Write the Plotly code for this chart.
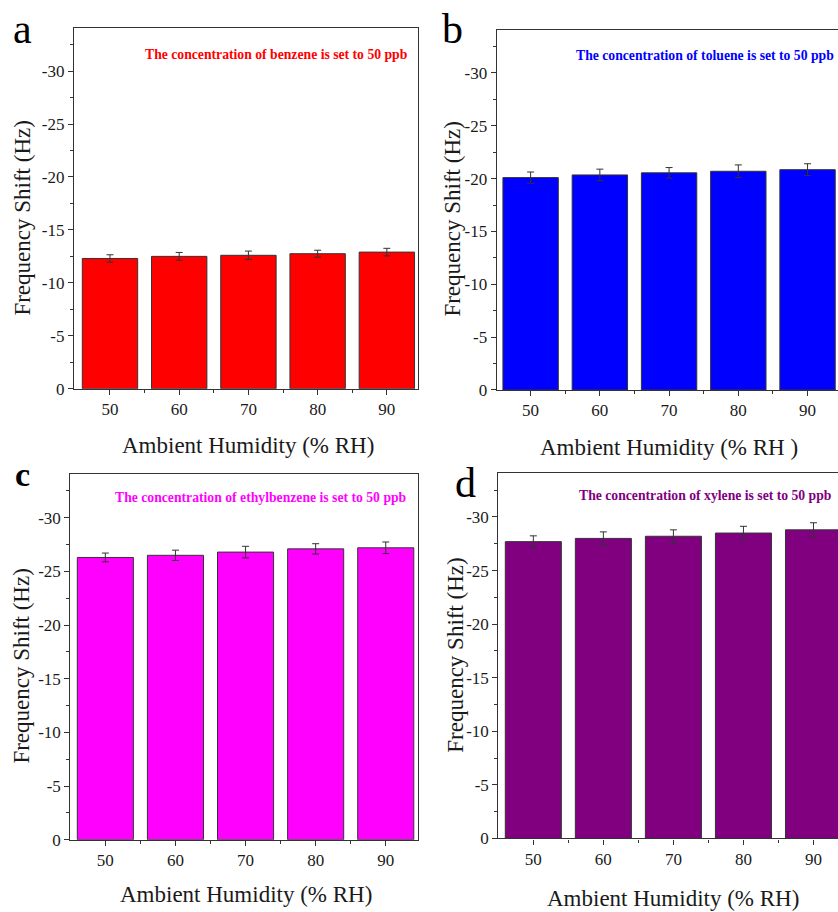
import plotly.graph_objects as go

W, H = 838, 912

humidity = [50, 60, 70, 80, 90]
tick_labels_x = ["50", "60", "70", "80", "90"]

benzene = [-12.3, -12.5, -12.6, -12.75, -12.9]
benzene_err = [0.35, 0.37, 0.40, 0.33, 0.36]
toluene = [-20.1, -20.35, -20.55, -20.7, -20.85]
toluene_err = [0.53, 0.55, 0.50, 0.60, 0.56]
ethylbenzene = [-26.3, -26.5, -26.8, -27.1, -27.2]
ethylbenzene_err = [0.41, 0.48, 0.54, 0.48, 0.54]
xylene = [-27.7, -28.0, -28.2, -28.5, -28.8]
xylene_err = [0.54, 0.61, 0.60, 0.63, 0.66]

y_ticks = [0, -5, -10, -15, -20, -25, -30]
y_ticklabels = ["0", "-5", "-10", "-15", "-20", "-25", "-30"]
y_minor = [-2.5, -7.5, -12.5, -17.5, -22.5, -27.5, -32.5]
x_minor = [55, 65, 75, 85]

FONT = "Liberation Serif, Times New Roman, serif"
AX = "#333333"

def px(x):
    return x / W

def py(y):
    return 1 - y / H

panels = [
    dict(v=benzene, e=benzene_err, c="#FF0000",
         sub="The concentration of benzene is set to 50 ppb",
         xdom=[px(74), px(418)], ydom=[py(393), py(28)], xr=[44.8, 94.5],
         letter="a", lpos=(22, 43), lbold=False, lsize=42,
         subpos=(143, 55), xt="Ambient Humidity (% RH)", xtpos=(248, 450),
         ytpos=(23, 221), mirror_y=True),
    dict(v=toluene, e=toluene_err, c="#0000FF",
         sub="The concentration of toluene is set to 50 ppb",
         xdom=[px(496.7), 1.0], ydom=[py(394.3), py(30)], xr=[45.1, 94.4],
         letter="b", lpos=(453, 43), lbold=False, lsize=42,
         subpos=(574, 56), xt="Ambient Humidity (% RH )", xtpos=(669, 452),
         ytpos=(453, 221), mirror_y=False),
    dict(v=ethylbenzene, e=ethylbenzene_err, c="#FF00FF",
         sub="The concentration of ethylbenzene is set to 50 ppb",
         xdom=[px(70.3), px(418)], ydom=[py(849), py(479)], xr=[45.0, 94.6],
         letter="c", lpos=(22, 489), lbold=True, lsize=34,
         subpos=(113, 503), xt="Ambient Humidity (% RH)", xtpos=(246, 904),
         ytpos=(22, 674), mirror_y=True),
    dict(v=xylene, e=xylene_err, c="#800080",
         sub="The concentration of xylene is set to 50 ppb",
         xdom=[px(498.3), 1.0], ydom=[py(847.7), py(478.3)], xr=[45.0, 93.5],
         letter="d", lpos=(465, 503), lbold=False, lsize=42,
         subpos=(577, 501), xt="Ambient Humidity (% RH)", xtpos=(673, 908),
         ytpos=(456, 663), mirror_y=False),
]

fig = go.Figure()
annotations = []
for i, p in enumerate(panels, start=1):
    sx = "" if i == 1 else str(i)
    fig.add_trace(go.Bar(
        x=humidity, y=p["v"], width=8,
        marker=dict(color=p["c"], line=dict(color=AX, width=1)),
        error_y=dict(type="data", array=p["e"], color=AX, thickness=1, width=3.5),
        xaxis="x" + sx, yaxis="y" + sx, showlegend=False,
    ))
    fig.update_layout(**{
        "xaxis" + sx: dict(
            domain=p["xdom"], range=p["xr"], anchor="y" + sx,
            tickmode="array", tickvals=humidity, ticktext=tick_labels_x,
            ticks="outside", ticklen=5, tickwidth=1, tickcolor=AX,
            minor=dict(tickmode="array", tickvals=x_minor, ticks="outside",
                       ticklen=3, tickcolor=AX, showgrid=False),
            showline=True, linecolor=AX, linewidth=1.2, mirror=True,
            showgrid=False, zeroline=False,
            tickfont=dict(family=FONT, size=17, color="#1a1a1a"),
        ),
        "yaxis" + sx: dict(
            domain=p["ydom"], range=[0, -34.1], anchor="x" + sx,
            tickmode="array", tickvals=y_ticks, ticktext=y_ticklabels,
            ticks="outside", ticklen=5, tickwidth=1, tickcolor=AX,
            minor=dict(tickmode="array", tickvals=y_minor, ticks="outside",
                       ticklen=3, tickcolor=AX, showgrid=False),
            showline=True, linecolor=AX, linewidth=1.2, mirror=p["mirror_y"],
            showgrid=False, zeroline=False,
            tickfont=dict(family=FONT, size=17, color="#1a1a1a"),
        ),
    })
    annotations.append(dict(
        text="<b>" + p["sub"] + "</b>", xref="paper", yref="paper",
        x=px(p["subpos"][0]), y=py(p["subpos"][1]),
        xanchor="left", yanchor="middle", showarrow=False,
        font=dict(family=FONT, size=13.7, color=p["c"]),
    ))
    letter = "<b>" + p["letter"] + "</b>" if p["lbold"] else p["letter"]
    annotations.append(dict(
        text=letter, xref="paper", yref="paper",
        x=px(p["lpos"][0]), y=py(p["lpos"][1]),
        xanchor="center", yanchor="bottom", showarrow=False,
        font=dict(family=FONT, size=p["lsize"], color="#000000"),
        borderpad=0, yshift=-10,
    ))
    annotations.append(dict(
        text=p["xt"], xref="paper", yref="paper",
        x=px(p["xtpos"][0]), y=py(p["xtpos"][1]),
        xanchor="center", yanchor="middle", showarrow=False,
        font=dict(family=FONT, size=23, color="#1a1a1a"),
    ))
    annotations.append(dict(
        text="Frequency Shift (Hz)", xref="paper", yref="paper",
        x=px(p["ytpos"][0]), y=py(p["ytpos"][1]), textangle=-90,
        xanchor="center", yanchor="middle", showarrow=False,
        font=dict(family=FONT, size=23, color="#1a1a1a"),
    ))

fig.update_layout(
    width=W, height=H,
    margin=dict(l=0, r=0, t=0, b=0),
    paper_bgcolor="white", plot_bgcolor="white",
    font=dict(family=FONT),
    annotations=annotations,
    bargap=0.2,
)

fig.write_html("out.html")
